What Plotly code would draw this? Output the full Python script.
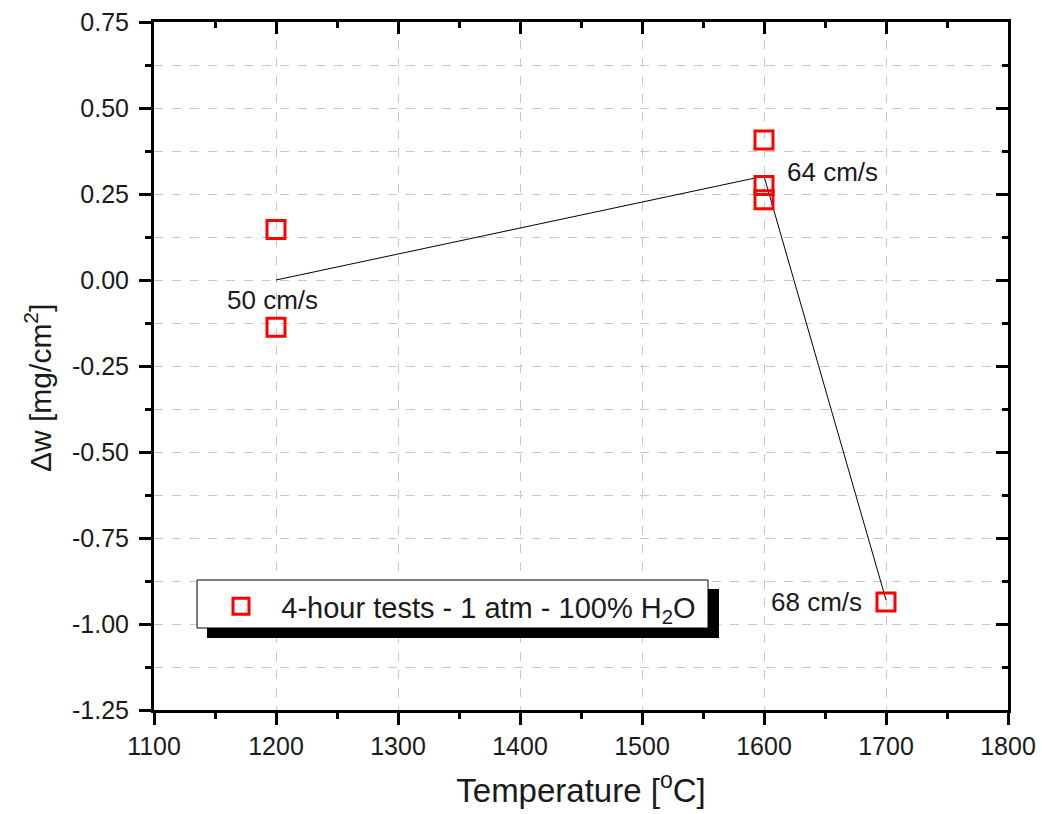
import plotly.graph_objects as go

# Data
temp_c = [1200, 1200, 1600, 1600, 1600, 1700]
dw = [0.147, -0.137, 0.407, 0.275, 0.233, -0.936]

trend_x = [1200, 1600, 1700]
trend_y = [0.0, 0.302, -0.93]

label_text = ["50 cm/s", "64 cm/s", "68 cm/s"]
label_x = [1197, 1656, 1643]
label_y = [-0.057, 0.313, -0.937]

x_ticks = [1100, 1200, 1300, 1400, 1500, 1600, 1700, 1800]
y_ticks = [0.75, 0.50, 0.25, 0.00, -0.25, -0.50, -0.75, -1.00, -1.25]
y_tick_text = ["%.2f" % v for v in y_ticks]

legend_name = "\u2002\u20094-hour tests - 1 atm - 100% H<sub>2</sub>O"

FONT = "Liberation Sans, Arial, sans-serif"
TXT = "#1a1a1a"
xr = [1100, 1800]
yr = [-1.25, 0.75]

fig = go.Figure()

fig.add_trace(go.Scatter(
    x=trend_x, y=trend_y, mode="lines",
    line=dict(color="black", width=1), showlegend=False, hoverinfo="skip"))

fig.add_trace(go.Scatter(
    x=temp_c, y=dw, mode="markers", name=legend_name,
    marker=dict(symbol="square-open", size=18, color="red",
                line=dict(color="red", width=3))))

# invisible trace for mirror axes
fig.add_trace(go.Scatter(x=[xr[0]], y=[yr[0]], xaxis="x2", yaxis="y2",
                         mode="markers", marker=dict(opacity=0),
                         showlegend=False, hoverinfo="skip"))

for t, xv, yv in zip(label_text, label_x, label_y):
    fig.add_annotation(x=xv, y=yv, text=t, showarrow=False,
                       font=dict(family=FONT, size=26, color=TXT),
                       xanchor="center", yanchor="middle")

# y-axis title (placed as in the reference, slightly below centre)
fig.add_annotation(xref="paper", yref="paper",
                   x=(38 - 154) / 854, y=(710 - 388) / 688,
                   text="\u0394w [mg/cm<sup>2</sup>]", textangle=-90,
                   showarrow=False, xanchor="center", yanchor="middle",
                   font=dict(family=FONT, size=30, color=TXT))

# Legend box and shadow (paper coordinates)
fig.add_shape(type="rect", xref="paper", yref="paper",
              x0=(207 - 154) / 854, x1=(719 - 154) / 854,
              y0=(710 - 638) / 688, y1=(710 - 589) / 688,
              fillcolor="black", line=dict(width=0), layer="above")
fig.add_shape(type="rect", xref="paper", yref="paper",
              x0=(197 - 154) / 854, x1=(708 - 154) / 854,
              y0=(710 - 628) / 688, y1=(710 - 580) / 688,
              fillcolor="white", line=dict(color="black", width=1), layer="above")

grid = dict(showgrid=True, gridcolor="#c8c8c8", griddash="dash", gridwidth=1)

fig.update_layout(
    width=1042, height=814,
    margin=dict(l=154, r=34, t=22, b=104),
    paper_bgcolor="white", plot_bgcolor="white",
    font=dict(family=FONT, color=TXT),
    showlegend=True,
    legend=dict(x=(221 - 154) / 854, y=(710 - 581) / 688,
                xanchor="left", yanchor="top",
                bgcolor="rgba(0,0,0,0)", borderwidth=0,
                font=dict(family=FONT, size=29, color=TXT)),
    xaxis=dict(range=xr, tickvals=x_ticks, ticks="outside", ticklen=12,
               tickwidth=3, tickcolor="black", showline=True, linewidth=3,
               linecolor="black", zeroline=False, automargin=False,
               tickfont=dict(family=FONT, size=25, color=TXT),
               title=dict(text="Temperature [<sup>o</sup>C]", standoff=20,
                          font=dict(family=FONT, size=33, color=TXT)),
               minor=dict(dtick=50, ticks="outside", ticklen=6, tickwidth=3,
                          tickcolor="black", showgrid=False),
               **grid),
    yaxis=dict(range=yr, tickvals=y_ticks, ticktext=y_tick_text,
               ticks="outside", ticklen=12, tickwidth=3, tickcolor="black",
               showline=True, linewidth=3, linecolor="black", zeroline=False,
               automargin=False, ticklabelstandoff=5,
               tickfont=dict(family=FONT, size=25, color=TXT),
               minor=dict(dtick=0.125, tick0=0, ticks="outside", ticklen=6,
                          tickwidth=3, tickcolor="black", showgrid=True,
                          gridcolor="#c8c8c8", griddash="dash", gridwidth=1),
               **grid),
    xaxis2=dict(range=xr, overlaying="x", side="top", tickvals=x_ticks,
                ticks="inside", ticklen=12, tickwidth=3, tickcolor="black",
                showline=True, linewidth=3, linecolor="black", automargin=False,
                showticklabels=False, showgrid=False, zeroline=False,
                minor=dict(dtick=50, ticks="inside", ticklen=6, tickwidth=3,
                           tickcolor="black", showgrid=False)),
    yaxis2=dict(range=yr, overlaying="y", side="right", tickvals=y_ticks,
                ticks="inside", ticklen=12, tickwidth=3, tickcolor="black",
                showline=True, linewidth=3, linecolor="black", automargin=False,
                showticklabels=False, showgrid=False, zeroline=False,
                minor=dict(dtick=0.125, tick0=0, ticks="inside", ticklen=6,
                           tickwidth=3, tickcolor="black", showgrid=False)),
)

fig.write_html("out.html")
